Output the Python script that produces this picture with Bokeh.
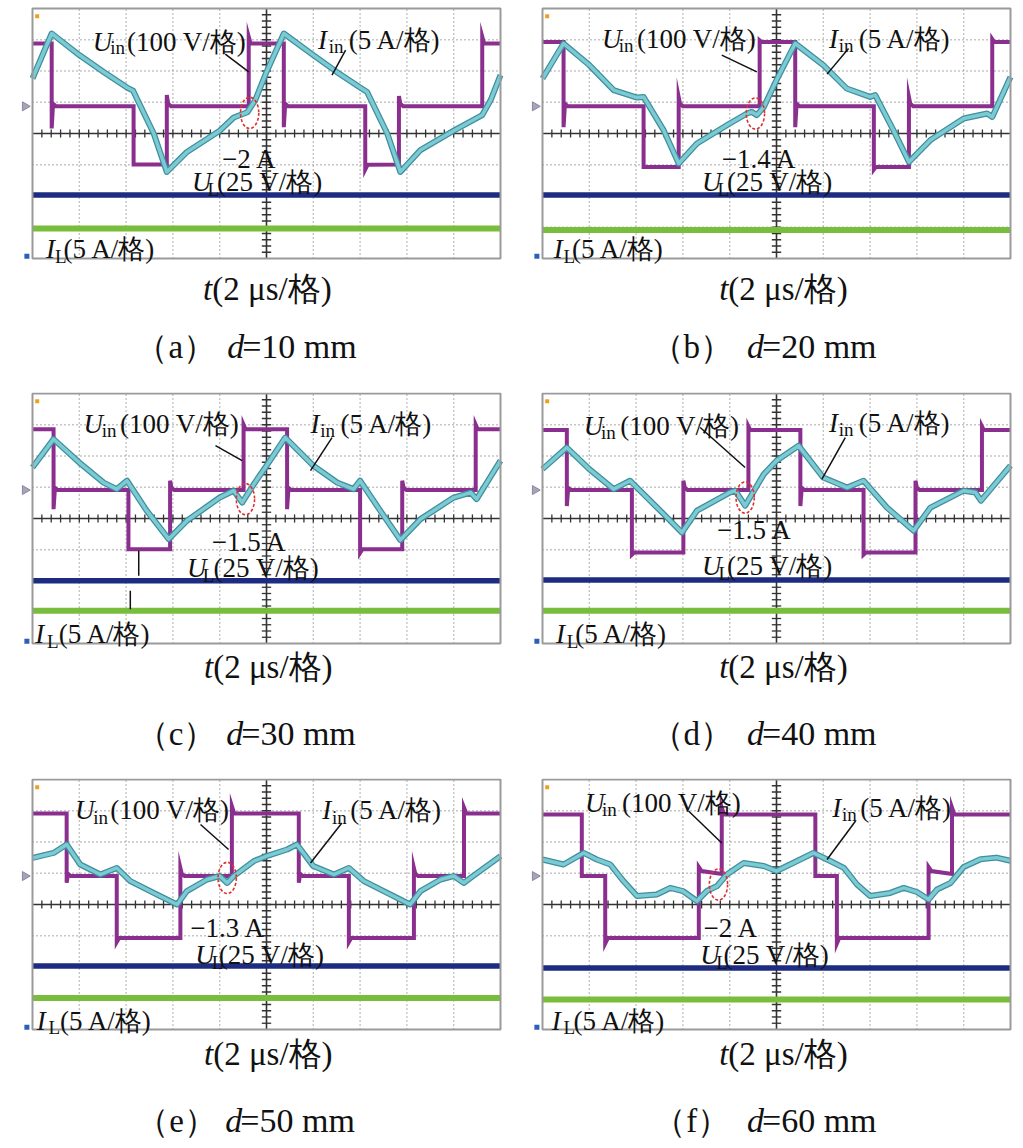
import numpy as np
from bokeh.plotting import figure
from bokeh.layouts import column, row
from bokeh.models import Range1d
from bokeh.core.properties import value
from bokeh.embed import file_html
from bokeh.resources import INLINE

# ------------------------------------------------------------------
# DATA  (read off the oscilloscope screens, in scope divisions:
#        x = 0..10 div (2 us/div), y = -4..4 div)
# ------------------------------------------------------------------
panel_letters = ["a", "b", "c", "d", "e", "f"]
distance_mm = [10, 20, 30, 40, 50, 60]
dip_current = ["\u22122 A", "\u22121.4 A", "\u22121.5 A", "\u22121.5 A", "\u22121.3 A", "\u22122 A"]
uin_scale = "(100 V/格)"
iin_scale = "(5 A/格)"
ul_scale = "(25 V/格)"
il_scale = "(5 A/格)"
time_scale = "(2 \u03bcs/格)"

# (a) d = 10 mm
a_uin_x = [0, 0.41, 0.41, 0.44, 0.50, 2.16, 2.16, 2.87, 2.87, 2.90, 2.96, 4.62, 4.62, 4.66, 5.37, 5.37, 5.40, 5.46, 7.11, 7.11, 7.16, 7.83, 7.83, 7.86, 7.92, 9.61, 9.61, 9.65, 10]
a_uin_y = [2.88, 2.88, 0.16, 0.95, 0.87, 0.87, -0.99, -0.99, 1.23, 0.95, 0.87, 0.87, 3.10, 2.88, 2.88, 0.20, 0.95, 0.87, 0.87, -1.15, -1.0, -0.99, 1.20, 0.95, 0.87, 0.87, 3.10, 2.88, 2.88]
a_iin_x = [0, 0.41, 1.0, 1.52, 2.02, 2.15, 2.59, 2.87, 3.30, 4.0, 4.30, 4.59, 4.76, 5.0, 5.37, 6.0, 6.50, 7.0, 7.15, 7.58, 7.86, 8.29, 9.0, 9.61, 9.79, 10]
a_iin_y = [1.76, 3.20, 2.51, 1.97, 1.47, 1.37, 0.0, -1.23, -0.59, 0.09, 0.51, 0.68, 1.07, 1.97, 3.20, 2.51, 1.97, 1.47, 1.33, 0.0, -1.23, -0.53, 0.09, 0.59, 1.07, 1.87]
a_ul = -1.97
a_il = -3.04

# (b) d = 20 mm
b_uin_x = [0, 0.45, 0.45, 0.48, 0.54, 2.16, 2.16, 2.91, 2.91, 2.94, 3.0, 4.64, 4.64, 4.68, 5.40, 5.40, 5.43, 5.49, 7.08, 7.08, 7.12, 7.83, 7.83, 7.86, 7.92, 9.61, 9.61, 9.65, 10]
b_uin_y = [2.93, 2.93, 0.20, 0.95, 0.87, 0.87, -1.07, -1.07, 1.17, 0.95, 0.87, 0.87, 2.98, 2.93, 2.93, 0.20, 0.95, 0.87, 0.87, -1.15, -1.07, -1.07, 1.17, 0.95, 0.87, 0.87, 3.02, 2.93, 2.93]
b_iin_x = [0, 0.45, 1.0, 1.52, 2.02, 2.16, 2.59, 2.91, 3.30, 4.0, 4.37, 4.47, 4.58, 4.73, 5.0, 5.40, 6.0, 6.50, 7.0, 7.11, 7.50, 7.83, 8.29, 9.0, 9.50, 9.61, 10]
b_iin_y = [1.76, 2.88, 2.19, 1.39, 1.15, 1.17, 0.10, -0.96, -0.32, 0.32, 0.64, 0.69, 0.59, 0.85, 1.71, 2.88, 2.19, 1.44, 1.17, 1.23, 0.10, -0.91, -0.21, 0.48, 0.64, 0.53, 1.81]
b_ul = -1.97
b_il = -3.09

# (c) d = 30 mm
c_uin_x = [0, 0.45, 0.45, 0.48, 0.54, 2.05, 2.05, 2.94, 2.94, 2.97, 3.03, 4.51, 4.51, 4.55, 5.44, 5.44, 5.47, 5.53, 7.0, 7.0, 7.05, 7.90, 7.90, 7.93, 7.99, 9.47, 9.47, 9.51, 10]
c_uin_y = [2.86, 2.86, 0.30, 0.98, 0.91, 0.91, -0.98, -0.98, 1.21, 0.98, 0.91, 0.91, 3.0, 2.86, 2.86, 0.30, 0.98, 0.91, 0.91, -1.10, -0.98, -0.98, 1.21, 0.98, 0.91, 0.91, 3.0, 2.86, 2.86]
c_iin_x = [0, 0.45, 1.0, 1.52, 1.80, 2.02, 2.44, 2.91, 3.30, 4.0, 4.30, 4.48, 4.73, 5.0, 5.40, 6.0, 6.51, 6.86, 7.0, 7.43, 7.86, 8.29, 9.0, 9.36, 9.49, 10]
c_iin_y = [1.63, 2.54, 1.79, 1.15, 0.94, 1.21, 0.25, -0.66, -0.07, 0.67, 0.89, 0.51, 1.10, 1.69, 2.59, 1.69, 1.15, 0.94, 1.21, 0.25, -0.69, -0.02, 0.67, 0.83, 0.62, 1.85]
c_ul = -1.99
c_il = -2.95

# (d) d = 40 mm
d_uin_x = [0, 0.52, 0.52, 0.55, 0.61, 1.91, 1.91, 1.96, 3.01, 3.01, 3.04, 3.10, 4.40, 4.40, 4.44, 5.51, 5.51, 5.54, 5.60, 6.86, 6.86, 6.91, 7.97, 7.97, 8.0, 8.06, 9.39, 9.39, 9.43, 10]
d_uin_y = [2.83, 2.83, 0.40, 0.98, 0.91, 0.91, -1.16, -1.09, -1.09, 1.21, 0.98, 0.91, 0.91, 2.95, 2.83, 2.83, 0.40, 0.98, 0.91, 0.91, -1.16, -1.09, -1.09, 1.21, 0.98, 0.91, 0.91, 2.95, 2.83, 2.83]
d_iin_x = [0, 0.52, 1.0, 1.52, 1.87, 2.30, 2.59, 2.98, 3.30, 4.0, 4.12, 4.33, 4.73, 5.0, 5.47, 6.0, 6.51, 6.86, 7.36, 7.93, 8.29, 9.0, 9.25, 9.37, 10]
d_iin_y = [1.58, 2.27, 1.58, 0.94, 1.21, 0.57, 0.14, -0.45, 0.25, 0.83, 0.89, 0.41, 1.42, 1.85, 2.33, 1.31, 0.99, 1.21, 0.35, -0.39, 0.35, 0.89, 0.83, 0.57, 1.69]
d_ul = -1.97
d_il = -2.95

# (e) d = 50 mm
e_uin_x = [0, 0.73, 0.73, 0.76, 0.82, 1.80, 1.80, 1.85, 3.16, 3.16, 3.19, 3.25, 4.26, 4.26, 4.31, 5.69, 5.69, 5.72, 5.78, 6.76, 6.76, 6.81, 8.15, 8.15, 8.18, 8.24, 9.22, 9.22, 9.27, 10]
e_uin_y = [2.91, 2.91, 0.70, 0.98, 0.91, 0.91, -1.20, -1.07, -1.07, 1.17, 0.98, 0.91, 0.91, 3.15, 2.91, 2.91, 0.70, 0.98, 0.91, 0.91, -1.20, -1.07, -1.07, 1.17, 0.98, 0.91, 0.91, 3.10, 2.91, 2.91]
e_iin_x = [0, 0.45, 0.73, 1.02, 1.45, 1.80, 2.09, 2.59, 3.09, 3.30, 3.73, 4.0, 4.16, 4.30, 4.73, 5.0, 5.44, 5.65, 6.0, 6.44, 6.76, 7.08, 7.58, 8.07, 8.29, 8.72, 9.0, 9.22, 9.36, 10]
e_iin_y = [1.49, 1.65, 1.92, 1.28, 0.96, 1.17, 0.75, 0.37, 0.0, 0.43, 0.80, 0.91, 0.69, 0.91, 1.39, 1.55, 1.76, 1.92, 1.23, 0.96, 1.17, 0.75, 0.37, 0.0, 0.43, 0.80, 0.91, 0.69, 0.85, 1.55]
e_ul = -1.97
e_il = -2.99

# (f) d = 60 mm
f_uin_x = [0, 0.84, 0.84, 1.34, 1.34, 1.40, 3.34, 3.34, 3.40, 3.83, 3.83, 3.88, 5.83, 5.83, 6.29, 6.29, 6.34, 8.25, 8.25, 8.31, 8.75, 8.75, 8.80, 10]
f_uin_y = [2.88, 2.88, 0.91, 0.91, -1.25, -1.07, -1.07, 1.20, 1.07, 0.98, 3.10, 2.88, 2.88, 0.91, 0.91, -1.25, -1.07, -1.07, 1.20, 1.07, 0.98, 3.10, 2.88, 2.88]
f_iin_x = [0, 0.45, 0.88, 1.16, 1.45, 1.73, 2.02, 2.44, 2.73, 3.0, 3.30, 3.51, 3.73, 3.94, 4.30, 4.73, 5.0, 5.44, 5.79, 6.15, 6.44, 6.72, 7.0, 7.43, 7.72, 8.0, 8.25, 8.43, 8.72, 9.0, 9.36, 9.70, 10]
f_iin_y = [1.44, 1.28, 1.65, 1.44, 1.28, 0.75, 0.27, 0.32, 0.53, 0.43, 0.11, 0.43, 0.59, 0.96, 1.33, 1.23, 1.07, 1.39, 1.65, 1.39, 1.17, 0.64, 0.27, 0.37, 0.53, 0.40, 0.16, 0.48, 0.69, 1.20, 1.45, 1.50, 1.40]
f_ul = -2.03
f_il = -3.04

UIN_X = [a_uin_x, b_uin_x, c_uin_x, d_uin_x, e_uin_x, f_uin_x]
UIN_Y = [a_uin_y, b_uin_y, c_uin_y, d_uin_y, e_uin_y, f_uin_y]
IIN_X = [a_iin_x, b_iin_x, c_iin_x, d_iin_x, e_iin_x, f_iin_x]
IIN_Y = [a_iin_y, b_iin_y, c_iin_y, d_iin_y, e_iin_y, f_iin_y]
UL = [a_ul, b_ul, c_ul, d_ul, e_ul, f_ul]
IL = [a_il, b_il, c_il, d_il, e_il, f_il]

# ------------------------------------------------------------------
# LAYOUT (annotation placement, in scope divisions)
# ------------------------------------------------------------------
ANN = [
    dict(u=(1.29, 2.93, 1.66, 2.74, 2.02), i=(6.10, 2.99, 6.33, 2.77, 6.76), amp=(4.05, -0.83),
         ul=(3.41, -1.55, 3.74, -1.79, 3.94), il=(0.29, -3.68, 0.48, -3.93, 0.66),
         lu=(4.12, 2.54, 4.62, 1.97), li=(6.69, 2.67, 6.40, 1.87), circ=(4.64, 0.66), ref=0.87,
         tj=3.84, cap=(3.06, 4.16, 4.48), extra=[]),
    dict(u=(1.27, 3.04, 1.63, 2.83, 2.02), i=(6.12, 3.04, 6.33, 2.83, 6.76), amp=(3.83, -0.83),
         ul=(3.41, -1.55, 3.74, -1.79, 3.94), il=(0.24, -3.68, 0.45, -3.93, 0.63),
         lu=(3.83, 2.51, 4.58, 1.97), li=(6.54, 2.72, 6.08, 1.90), circ=(4.55, 0.64), ref=0.87,
         tj=3.97, cap=(3.19, 4.37, 4.69), extra=[]),
    dict(u=(1.09, 3.02, 1.48, 2.81, 1.87), i=(5.94, 3.02, 6.15, 2.81, 6.58), amp=(3.83, -0.75),
         ul=(3.30, -1.57, 3.64, -1.81, 3.87), il=(0.06, -3.70, 0.31, -3.95, 0.56),
         lu=(3.91, 2.33, 4.48, 1.85), li=(6.40, 2.59, 5.94, 1.53), circ=(4.55, 0.62), ref=0.91,
         tj=3.86, cap=(3.07, 4.14, 4.46), extra=[(2.27, -1.03, 2.27, -1.83), (2.09, -2.31, 2.09, -2.90)]),
    dict(u=(0.88, 2.97, 1.25, 2.76, 1.66), i=(6.12, 3.07, 6.33, 2.86, 6.76), amp=(3.73, -0.37),
         ul=(3.41, -1.51, 3.76, -1.75, 3.94), il=(0.29, -3.70, 0.52, -3.95, 0.70),
         lu=(3.37, 2.91, 4.33, 1.63), li=(6.47, 2.59, 5.97, 1.26), circ=(4.33, 0.67), ref=0.91,
         tj=3.97, cap=(3.19, 4.37, 4.69), extra=[]),
    dict(u=(0.91, 3.01, 1.30, 2.80, 1.66), i=(6.19, 3.01, 6.40, 2.80, 6.79), amp=(3.37, -0.75),
         ul=(3.48, -1.60, 3.83, -1.84, 3.98), il=(0.09, -3.72, 0.34, -3.95, 0.59),
         lu=(3.59, 2.56, 4.19, 1.76), li=(6.61, 2.61, 5.94, 1.33), circ=(4.16, 0.85), ref=0.91,
         tj=3.86, cap=(3.08, 4.12, 4.44), extra=[]),
    dict(u=(0.91, 3.25, 1.27, 3.04, 1.70), i=(6.19, 3.09, 6.40, 2.88, 6.79), amp=(3.44, -0.75),
         ul=(3.37, -1.60, 3.71, -1.84, 3.87), il=(0.20, -3.72, 0.45, -3.95, 0.66),
         lu=(3.12, 2.99, 3.83, 1.97), li=(6.69, 2.67, 6.08, 1.44), circ=(3.76, 0.64), ref=0.91,
         tj=3.97, cap=(3.19, 4.37, 4.69), extra=[]),
]

ROW_H = [392, 386, 370]
TOP_PAD = [8, 1, 1]      # px above the scope screen in each row
COL_W = [518, 505]
LEFT_PAD = [32, 24]      # px left of the scope screen in each column
PX_X = 46.8              # px per x division
PX_Y = 31.25             # px per y division
T_Y = [-4.98, -4.74, -4.77]
CAP_Y = [-6.83, -6.88, -6.92]

SERIF = value("Liberation Serif")
PURPLE = "#8B2F8F"
CYAN_D = "#3F8F9C"
CYAN_L = "#7CCAD3"
NAVY = "#1D2B80"
GREEN = "#78BE3C"
GRIDC = "#8c8c8c"


def txt(p, x, y, s, size, italic=False, align="left", baseline="alphabetic", color="#111111"):
    p.text(x=[x], y=[y], text=[s], text_font=SERIF, text_font_size=size,
           text_font_style="italic" if italic else "normal",
           text_align=align, text_baseline=baseline, text_color=color)


def make_panel(k):
    r, c = divmod(k, 2)
    W, H = COL_W[c], ROW_H[r]
    x0 = -LEFT_PAD[c] / PX_X
    y1 = 4 + TOP_PAD[r] / PX_Y
    p = figure(width=W, height=H, x_range=Range1d(x0, x0 + W / PX_X),
               y_range=Range1d(y1 - H / PX_Y, y1), x_axis_location=None,
               y_axis_location=None, toolbar_location=None, output_backend="svg",
               min_border=0, outline_line_color=None)
    p.grid.visible = False
    p.background_fill_color = "white"
    p.border_fill_color = "white"
    A = ANN[k]

    # dotted graticule
    gx = [1, 2, 3, 4, 6, 7, 8, 9]
    gy = [-3, -2, -1, 1, 2, 3]
    p.segment(x0=gx, y0=[-4] * len(gx), x1=gx, y1=[4] * len(gx),
              line_color=GRIDC, line_width=1.4, line_dash="1 3")
    p.segment(x0=[0] * len(gy), y0=gy, x1=[10] * len(gy), y1=gy,
              line_color=GRIDC, line_width=1.4, line_dash="1 3")
    # centre cross with minor ticks
    p.segment(x0=[0, 5], y0=[0, -4], x1=[10, 5], y1=[0, 4], line_color="#333333", line_width=1.6)
    tx = np.arange(0.2, 10.0, 0.2)
    p.segment(x0=tx, y0=[-0.13] * len(tx), x1=tx, y1=[0.13] * len(tx), line_color="#333333", line_width=1.3)
    ty = np.arange(-3.8, 4.0, 0.2)
    p.segment(x0=[4.9] * len(ty), y0=ty, x1=[5.1] * len(ty), y1=ty, line_color="#333333", line_width=1.3)

    # traces
    p.line(x=[0, 10], y=[IL[k], IL[k]], line_color=GREEN, line_width=6)
    p.line(x=[0, 10], y=[UL[k], UL[k]], line_color=NAVY, line_width=5.5)
    p.line(x=UIN_X[k], y=UIN_Y[k], line_color=PURPLE, line_width=4, line_join="miter")
    p.line(x=IIN_X[k], y=IIN_Y[k], line_color=CYAN_D, line_width=6, line_join="round")
    p.line(x=IIN_X[k], y=IIN_Y[k], line_color=CYAN_L, line_width=3.5, line_join="round")

    # screen frame
    p.quad(left=[0], right=[10], bottom=[-4], top=[4], fill_color=None,
           line_color="#9a9a9a", line_width=2)
    # channel markers
    p.scatter(x=[-0.16], y=[A["ref"]], marker="triangle", angle=-np.pi / 2, size=9,
              fill_color="#a8a3b8", line_color="#8a86a0")
    p.scatter(x=[0.1], y=[3.75], marker="square", size=4, fill_color="#f0a020", line_color=None)
    p.scatter(x=[-0.12], y=[-3.93], marker="square", size=5, fill_color="#2b5fb8", line_color=None)

    # red dashed ellipse around the dip
    p.ellipse(x=[A["circ"][0]], y=[A["circ"][1]], width=0.39, height=1.0, fill_color=None,
              line_color="#e03030", line_width=1.6, line_dash="3 2")

    # leader lines
    lu, li = A["lu"], A["li"]
    segs = [lu, li] + A["extra"]
    p.segment(x0=[s[0] for s in segs], y0=[s[1] for s in segs],
              x1=[s[2] for s in segs], y1=[s[3] for s in segs],
              line_color="#111111", line_width=1.5)

    F, S = "27px", "19px"
    u = A["u"]
    txt(p, u[0], u[1], "U", F, italic=True)
    txt(p, u[2], u[3], "in", S)
    txt(p, u[4], u[1], uin_scale, F)
    i = A["i"]
    txt(p, i[0], i[1], "I", F, italic=True)
    txt(p, i[2], i[3], "in", S)
    txt(p, i[4], i[1], iin_scale, F)
    ul = A["ul"]
    txt(p, ul[0], ul[1], "U", F, italic=True)
    txt(p, ul[2], ul[3], "L", S)
    txt(p, ul[4], ul[1], ul_scale, F)
    il = A["il"]
    txt(p, il[0], il[1], "I", F, italic=True)
    txt(p, il[2], il[3], "L", S)
    txt(p, il[4], il[1], il_scale, F)
    txt(p, A["amp"][0], A["amp"][1], dip_current[k], F)

    # time-axis label and caption below the screen
    txt(p, A["tj"], T_Y[r], "t", "33px", italic=True, align="right", baseline="middle")
    txt(p, A["tj"], T_Y[r], time_scale, "33px", baseline="middle")
    cap = A["cap"]
    txt(p, cap[0], CAP_Y[r], "（%s）" % panel_letters[k], "33px", align="center", baseline="middle")
    txt(p, cap[1], CAP_Y[r], "d", "34px", italic=True, baseline="middle")
    txt(p, cap[2], CAP_Y[r], "=%d mm" % distance_mm[k], "34px", baseline="middle")
    return p


figs = [make_panel(k) for k in range(6)]
layout = column(row(figs[0], figs[1]), row(figs[2], figs[3]), row(figs[4], figs[5]))
open("out.html", "w").write(file_html(layout, INLINE))
